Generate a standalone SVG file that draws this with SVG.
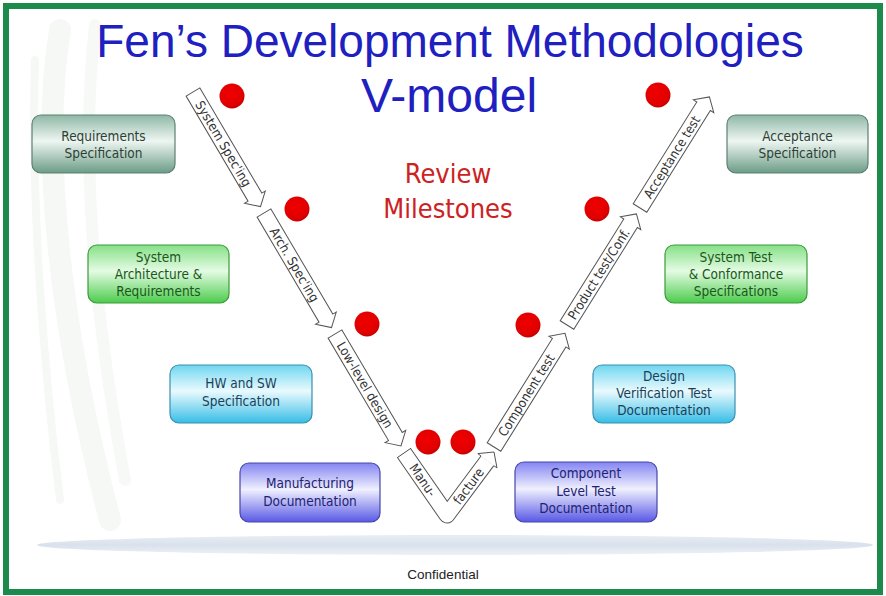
<svg xmlns="http://www.w3.org/2000/svg" width="886" height="596" viewBox="0 0 886 596">
<defs>
<linearGradient id="gTeal" x1="0" y1="0" x2="0" y2="1"><stop offset="0" stop-color="#8fb8a6"/><stop offset="0.45" stop-color="#eef6f2"/><stop offset="1" stop-color="#6b9c87"/></linearGradient>
<linearGradient id="gGreen" x1="0" y1="0" x2="0" y2="1"><stop offset="0" stop-color="#86e086"/><stop offset="0.45" stop-color="#e4fbe4"/><stop offset="1" stop-color="#4ccc4c"/></linearGradient>
<linearGradient id="gCyan" x1="0" y1="0" x2="0" y2="1"><stop offset="0" stop-color="#6fd6f0"/><stop offset="0.45" stop-color="#eafafe"/><stop offset="1" stop-color="#36bde6"/></linearGradient>
<linearGradient id="gBlue" x1="0" y1="0" x2="0" y2="1"><stop offset="0" stop-color="#8484f2"/><stop offset="0.45" stop-color="#f0f0ff"/><stop offset="1" stop-color="#5858e6"/></linearGradient>
<linearGradient id="gFloor" x1="0" y1="0" x2="0" y2="1"><stop offset="0" stop-color="#e9eef5"/><stop offset="0.5" stop-color="#d9e1ec"/><stop offset="1" stop-color="#eef2f7"/></linearGradient>
<radialGradient id="gDot" cx="0.45" cy="0.4" r="0.6"><stop offset="0" stop-color="#f00000"/><stop offset="0.8" stop-color="#e00000"/><stop offset="1" stop-color="#c40000"/></radialGradient>
<style>
.box text{font-family:"DejaVu Sans Condensed","DejaVu Sans",sans-serif;font-size:13.5px;text-anchor:middle}
.teal rect{fill:url(#gTeal);stroke:#5d8070;stroke-width:1.2}
.green rect{fill:url(#gGreen);stroke:#3c9a3c;stroke-width:1.2}
.cyan rect{fill:url(#gCyan);stroke:#3b8fb0;stroke-width:1.2}
.blue rect{fill:url(#gBlue);stroke:#4646a8;stroke-width:1.2}
.teal text{fill:#2e3f35}.green text{fill:#1a571a}.cyan text{fill:#1a4058}.blue text{fill:#222270}
.arr path{fill:#fff;stroke:#555;stroke-width:1}
.arr text,.ulbl{font-family:"DejaVu Sans Condensed","DejaVu Sans",sans-serif;font-size:13px;fill:#333;text-anchor:middle}
.dot{fill:url(#gDot)}
</style>
</defs>
<rect x="0" y="0" width="886" height="596" fill="#fff"/>
<g id="decor" fill="none" stroke-linecap="round">
<path d="M60,30 C40,150 60,330 110,520" stroke="#f6f8f6" stroke-width="22"/>
<path d="M95,25 C80,160 95,320 125,480" stroke="#f7f9f7" stroke-width="12"/>
<path d="M35,60 C30,200 45,380 60,500" stroke="#f6f8f6" stroke-width="8"/>
</g>
<ellipse cx="455" cy="545" rx="418" ry="10" fill="url(#gFloor)"/>
<rect x="6" y="6" width="874" height="586" fill="none" stroke="#1b8a4b" stroke-width="6"/>
<g id="title">
<text x="450" y="57" font-family="Liberation Sans,Arial,sans-serif" font-size="46" fill="#2020c0" text-anchor="middle">Fen’s Development Methodologies</text>
<text x="449" y="112" font-family="Liberation Sans,Arial,sans-serif" font-size="48" fill="#2020c0" text-anchor="middle">V-model</text>
</g>
<g id="review-label" font-family="DejaVu Sans Condensed,DejaVu Sans,sans-serif" font-size="27" fill="#cc2222" text-anchor="middle">
<text x="448" y="183">Review</text>
<text x="448" y="218">Milestones</text>
</g>
<g id="box-req" class="box teal"><rect x="32" y="115" width="143" height="58" rx="9"/><text x="103.5" y="141">Requirements</text><text x="103.5" y="158">Specification</text></g>
<g id="box-sysarch" class="box green"><rect x="88" y="245" width="141" height="58" rx="9"/><text x="158.5" y="262">System</text><text x="158.5" y="279">Architecture &amp;</text><text x="158.5" y="296">Requirements</text></g>
<g id="box-hwsw" class="box cyan"><rect x="170" y="365" width="142" height="58" rx="9"/><text x="241" y="388">HW and SW</text><text x="241" y="406">Specification</text></g>
<g id="box-manuf" class="box blue"><rect x="240" y="463" width="140" height="59" rx="9"/><text x="310" y="488">Manufacturing</text><text x="310" y="506">Documentation</text></g>
<g id="box-complevel" class="box blue"><rect x="515" y="462" width="142" height="60" rx="9"/><text x="586" y="478">Component</text><text x="586" y="496">Level Test</text><text x="586" y="513">Documentation</text></g>
<g id="box-designver" class="box cyan"><rect x="593" y="365" width="142" height="58" rx="9"/><text x="664" y="381">Design</text><text x="664" y="398">Verification Test</text><text x="664" y="415">Documentation</text></g>
<g id="box-systest" class="box green"><rect x="665" y="245" width="142" height="58" rx="9"/><text x="736" y="262">System Test</text><text x="736" y="279">&amp; Conformance</text><text x="736" y="296">Specifications</text></g>
<g id="box-accept" class="box teal"><rect x="727" y="115" width="141" height="58" rx="9"/><text x="797.5" y="141">Acceptance</text><text x="797.5" y="158">Specification</text></g>
<g id="connectors">
<g class="arr" transform="translate(193,92) rotate(59.5)"><path d="M0,-8 H122 V-12 L133,0 L122,12 V8 H0 Z"/><text x="60" y="4.6">System Spec'ing</text></g>
<g class="arr" transform="translate(264,213) rotate(59.5)"><path d="M0,-8 H122 V-12 L133,0 L122,12 V8 H0 Z"/><text x="60" y="4.6">Arch. Spec'ing</text></g>
<g class="arr" transform="translate(335,334) rotate(59.5)"><path d="M0,-8 H119 V-12 L130,0 L119,12 V8 H0 Z"/><text x="59" y="4.6">Low-level design</text></g>
<g id="u-arrow">
<path d="M404,453 L447,515 L487.4,460.8" fill="none" stroke="#555" stroke-width="17" stroke-linejoin="round"/>
<path d="M404,453 L447,515 L487.4,460.8" fill="none" stroke="#fff" stroke-width="15" stroke-linejoin="round"/>
<line x1="397" y1="457.8" x2="411" y2="448.2" stroke="#555" stroke-width="1"/>
<polyline points="481,456 477.8,453.6 494,452 497,468 493.8,465.6" fill="#fff" stroke="#555" stroke-width="1"/>
<text class="ulbl" transform="translate(404,453) rotate(55.3)" x="33" y="4.6">Manu-</text>
<text class="ulbl" transform="translate(447,515) rotate(-53.3)" x="36" y="4.6">facture</text>
</g>
<g class="arr" transform="translate(494,447) rotate(-58)"><path d="M0,-8 H123 V-12 L134,0 L123,12 V8 H0 Z"/><text x="61" y="4.6">Component test</text></g>
<g class="arr" transform="translate(567,325) rotate(-58)"><path d="M0,-8 H120 V-12 L131,0 L120,12 V8 H0 Z"/><text x="60" y="4.6">Product test/Conf.</text></g>
<g class="arr" transform="translate(640,208) rotate(-58)"><path d="M0,-8 H120 V-12 L131,0 L120,12 V8 H0 Z"/><text x="60" y="4.6">Acceptance test</text></g>
</g>
<g id="milestones">
<circle id="ms1" class="dot" cx="232" cy="96" r="12.5"/>
<circle id="ms2" class="dot" cx="297" cy="209" r="12.5"/>
<circle id="ms3" class="dot" cx="367" cy="324" r="12.5"/>
<circle id="ms4" class="dot" cx="428" cy="442" r="12.5"/>
<circle id="ms5" class="dot" cx="463" cy="442" r="12.5"/>
<circle id="ms6" class="dot" cx="528" cy="325" r="12.5"/>
<circle id="ms7" class="dot" cx="597" cy="209" r="12.5"/>
<circle id="ms8" class="dot" cx="658" cy="95" r="12.5"/>
</g>
<text id="footer" x="443" y="579" font-family="Liberation Sans,Arial,sans-serif" font-size="13.5" fill="#222" text-anchor="middle">Confidential</text>
</svg>
